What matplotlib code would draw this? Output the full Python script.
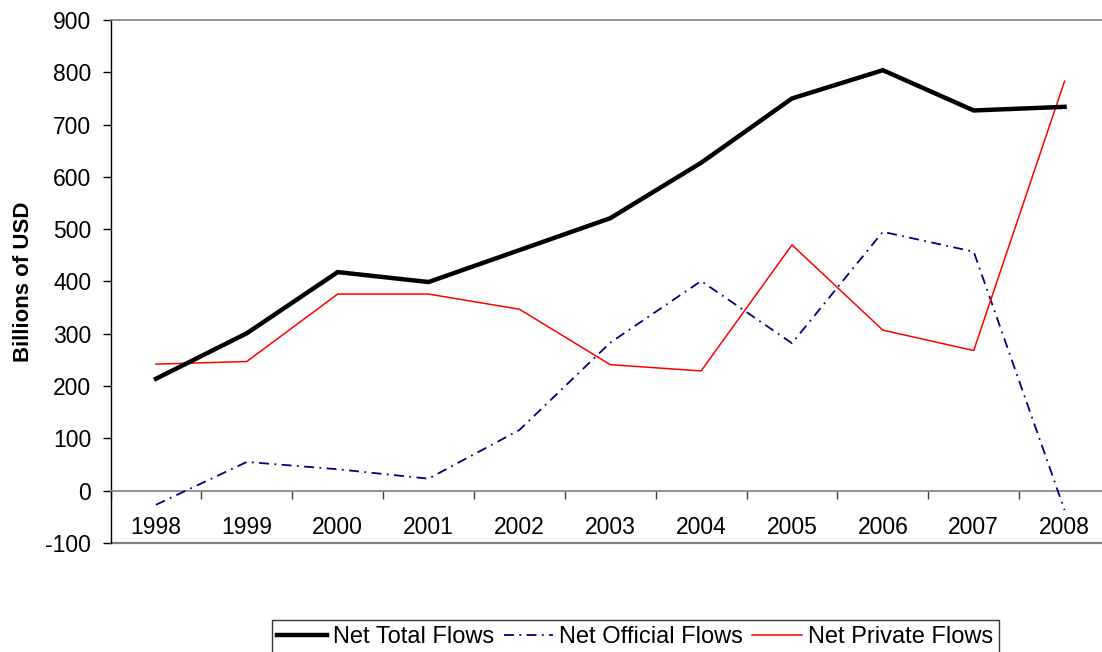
import numpy as np
import matplotlib
matplotlib.use('Agg')
import matplotlib.pyplot as plt

plt.rcParams['font.family'] = ['Liberation Sans', 'DejaVu Sans']

# ── Data (billions of USD) ─────────────────────────────────
years = ['1998', '1999', '2000', '2001', '2002', '2003',
         '2004', '2005', '2006', '2007', '2008']
net_total    = [214, 301, 418, 399, 460, 521, 627, 750, 804, 727, 734]
net_official = [-27, 55, 41, 23, 116, 283, 401, 282, 495, 457, -37]
net_private  = [242, 247, 376, 376, 347, 241, 229, 470, 307, 268, 783]

GRID = '#808080'

W, H = 1102, 652
fig = plt.figure(figsize=(W / 100, H / 100), dpi=100, facecolor='white')
ax = fig.add_axes([110.5 / W, 1 - 543 / H, (1110 - 110.5) / W, (543 - 20) / H])

x = np.arange(len(years))
ax.plot(x, net_total, color='black', lw=3.2, label='Net Total Flows',
        solid_joinstyle='miter', zorder=4)
ax.plot(x, net_official, color='#000080', lw=1.3, ls=(0, (5.5, 3, 1, 3)),
        label='Net Official Flows', zorder=3)
ax.plot(x, net_private, color='#FF0000', lw=1.1, label='Net Private Flows', zorder=3)

# ── Axes styling ───────────────────────────────────────────
ax.set_xlim(-0.5, len(years) - 0.5)
ax.set_ylim(-100, 900)
ax.set_yticks(np.arange(-100, 901, 100))
ax.set_yticklabels([str(v) for v in range(-100, 901, 100)])
ax.tick_params(axis='y', direction='out', length=5.8, width=1, colors='black',
               labelsize=16.5, pad=8)

ax.spines['left'].set_color('black')
ax.spines['left'].set_linewidth(1)
ax.spines['top'].set_color(GRID)
ax.spines['top'].set_linewidth(1.2)
ax.spines['right'].set_visible(False)
ax.spines['bottom'].set_position(('data', 0))
ax.spines['bottom'].set_color(GRID)
ax.spines['bottom'].set_linewidth(1.2)

# category boundary ticks on the zero line, labels centred between them
ax.set_xticks(np.arange(-0.5, len(years), 1.0))
ax.set_xticklabels([])
ax.tick_params(axis='x', which='major', direction='out', length=5.4, width=1,
               color='#404040')
ax.set_xticks(x, minor=True)
ax.set_xticklabels(years, minor=True)
ax.tick_params(axis='x', which='minor', length=0, pad=18, labelsize=16.5)

# bottom border at -100
ax.axhline(-100, color=GRID, lw=1.6, clip_on=False)

ax.set_ylabel('Billions of USD', fontsize=16, fontweight='bold')
ax.yaxis.set_label_coords((34 - 110.5) / 999.5, 0.5)

fig.legend(loc='upper center', bbox_to_anchor=(635.2 / W, 1 - 620 / H), ncol=3,
           frameon=True, fancybox=False, edgecolor='black', fontsize=17,
           handlelength=2.1, handletextpad=0.25, columnspacing=0.4,
           borderpad=0.25, borderaxespad=0)

fig.savefig('out.png', dpi=100, facecolor='white')
